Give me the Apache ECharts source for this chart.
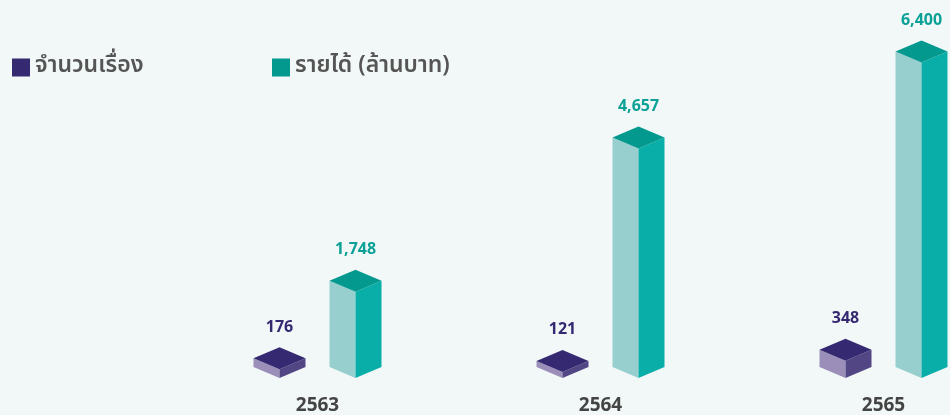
<!DOCTYPE html>
<html>
<head>
<meta charset="utf-8">
<script src="https://cdn.jsdelivr.net/npm/echarts@6/dist/echarts.min.js"></script>
<style>
  html, body { margin: 0; padding: 0; background: #f1f8f7; }
  #chart { width: 950px; height: 415px; }
</style>
</head>
<body>
<div id="chart"></div>
<script>
const years = ['2563', '2564', '2565']
const caseCount = [176, 121, 348]
const revenue = [1748, 4657, 6400]
const seriesNames = ['จำนวนเรื่อง', 'รายได้ (ล้านบาท)']

// face colours: top / left / right
const purple = { top: '#352a72', left: '#9b8fb9', right: '#534684', label: '#352a72' }
const teal = { top: '#03998f', left: '#96cfcd', right: '#0aaea8', label: '#0ba197' }

const fontFamily = '"Noto Sans Thai", "Noto Sans", "DejaVu Sans", sans-serif'

function prism(colors, offset) {
  return function(params, api) {
    const idx = api.value(0)
    const top = api.coord([idx, api.value(1)])
    const base = api.coord([idx, 0])
    const cx = top[0] + offset
    const y1 = top[1]
    const y0 = base[1]
    const w = 26
    const d = 11
    return {
      type: 'group',
      children: [
        {
          type: 'polygon',
          shape: { points: [[cx - w, y1 - d], [cx, y1], [cx, y0], [cx - w, y0 - d]] },
          style: { fill: colors.left }
        },
        {
          type: 'polygon',
          shape: { points: [[cx, y1], [cx + w, y1 - d], [cx + w, y0 - d], [cx, y0]] },
          style: { fill: colors.right }
        },
        {
          type: 'polygon',
          shape: { points: [[cx, y1], [cx - w, y1 - d], [cx, y1 - 2 * d], [cx + w, y1 - d]] },
          style: { fill: colors.top }
        },
        {
          type: 'text',
          style: {
            text: api.value(1).toLocaleString('en-US'),
            x: cx,
            y: y1 - 2 * d - 19,
            align: 'center',
            verticalAlign: 'middle',
            fill: colors.label,
            font: 'bold 16px ' + fontFamily
          }
        }
      ]
    }
  }
}

const chart = echarts.init(document.getElementById('chart'))
chart.setOption({
  backgroundColor: '#f1f8f7',
  animation: false,
  legend: [
    {
      left: 7, top: 51,
      icon: 'rect', itemWidth: 18, itemHeight: 18, itemGap: 8,
      data: [seriesNames[0]],
      textStyle: { fontSize: 23, fontWeight: 600, color: '#555555', fontFamily: fontFamily }
    },
    {
      left: 267, top: 51,
      icon: 'rect', itemWidth: 18, itemHeight: 18,
      data: [seriesNames[1]],
      textStyle: { fontSize: 23, fontWeight: 600, color: '#555555', fontFamily: fontFamily }
    }
  ],
  grid: { left: 176, top: 33, width: 849, height: 345, outerBoundsMode: 'none', containLabel: false },
  xAxis: {
    type: 'category',
    data: years,
    axisLine: { show: false },
    axisTick: { show: false },
    axisLabel: {
      margin: 20,
      fontSize: 19,
      fontWeight: 'bold',
      color: '#444444',
      fontFamily: fontFamily
    }
  },
  yAxis: {
    type: 'value',
    min: 0,
    max: 7000,
    show: false,
    splitLine: { show: false }
  },
  series: [
    {
      name: seriesNames[0],
      type: 'custom',
      itemStyle: { color: purple.top },
      renderItem: prism(purple, -38),
      encode: { x: 0, y: 1 },
      data: caseCount.map((v, i) => [i, v])
    },
    {
      name: seriesNames[1],
      type: 'custom',
      itemStyle: { color: teal.top },
      renderItem: prism(teal, 38),
      encode: { x: 0, y: 1 },
      data: revenue.map((v, i) => [i, v])
    }
  ]
})
</script>
</body>
</html>
